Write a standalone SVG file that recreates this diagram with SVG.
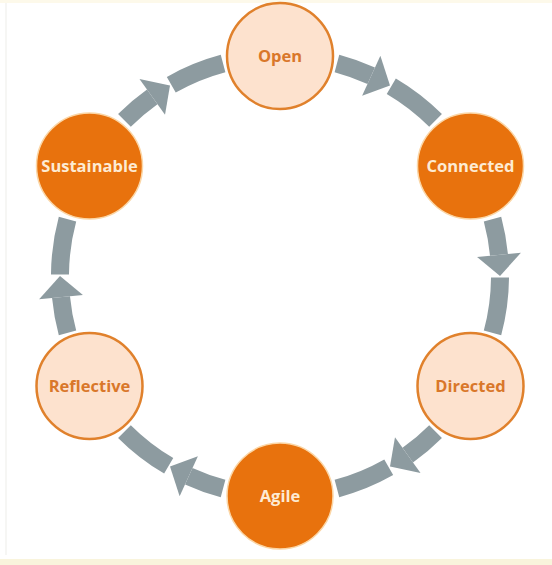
<svg xmlns="http://www.w3.org/2000/svg" xmlns:xlink="http://www.w3.org/1999/xlink" width="552" height="565" viewBox="0 0 552 565">
  <style>
    .seg { fill: none; stroke: #8d9ba0; stroke-width: 18; stroke-linecap: butt; }
    .head { fill: #8d9ba0; stroke: none; }
    .light circle { fill: #fde2ce; stroke: #e0812c; stroke-width: 2.5; }
    .dark circle { fill: #e8720d; stroke: #fbd6a6; stroke-width: 1.5; }
    text { font-family: "Open Sans", "Noto Sans", "Liberation Sans", sans-serif; font-weight: bold; font-size: 16.5px; text-anchor: middle; }
    .light text { fill: #d9772a; }
    .dark text { fill: #fdebd3; }
  </style>
  <defs>
    <g id="conn">
      <path class="seg" d="M 336.94 63.50 A 220 220 0 0 1 371.23 75.81"/>
      <polygon class="head" points="380.36,55.79 390,85.47 362.11,95.83"/>
      <path class="seg" d="M 391.30 86.20 A 220 220 0 0 1 435.56 120.44"/>
    </g>
  </defs>
  <rect x="0" y="0" width="552" height="565" fill="#ffffff"/>
  <rect x="0" y="0" width="552" height="3" fill="#fdf9ea"/>
  <rect x="0" y="559" width="552" height="6" fill="#f9f4dc"/>
  <rect x="5" y="3" width="2" height="552" fill="#f6f6f4"/>

  <g id="connectors">
    <use xlink:href="#conn"/>
    <use xlink:href="#conn" transform="rotate(60 280 276)"/>
    <use xlink:href="#conn" transform="rotate(120 280 276)"/>
    <use xlink:href="#conn" transform="rotate(180 280 276)"/>
    <use xlink:href="#conn" transform="rotate(240 280 276)"/>
    <use xlink:href="#conn" transform="rotate(300 280 276)"/>
  </g>

  <g id="open" class="light">
    <circle cx="280" cy="56" r="53"/>
    <text x="280" y="62">Open</text>
  </g>
  <g id="connected" class="dark">
    <circle cx="470.5" cy="166" r="53"/>
    <text x="470.5" y="172">Connected</text>
  </g>
  <g id="directed" class="light">
    <circle cx="470.5" cy="386" r="53"/>
    <text x="470.5" y="392">Directed</text>
  </g>
  <g id="agile" class="dark">
    <circle cx="280" cy="496" r="53"/>
    <text x="280" y="502">Agile</text>
  </g>
  <g id="reflective" class="light">
    <circle cx="89.5" cy="386" r="53"/>
    <text x="89.5" y="392">Reflective</text>
  </g>
  <g id="sustainable" class="dark">
    <circle cx="89.5" cy="166" r="53"/>
    <text x="89.5" y="172">Sustainable</text>
  </g>
</svg>
